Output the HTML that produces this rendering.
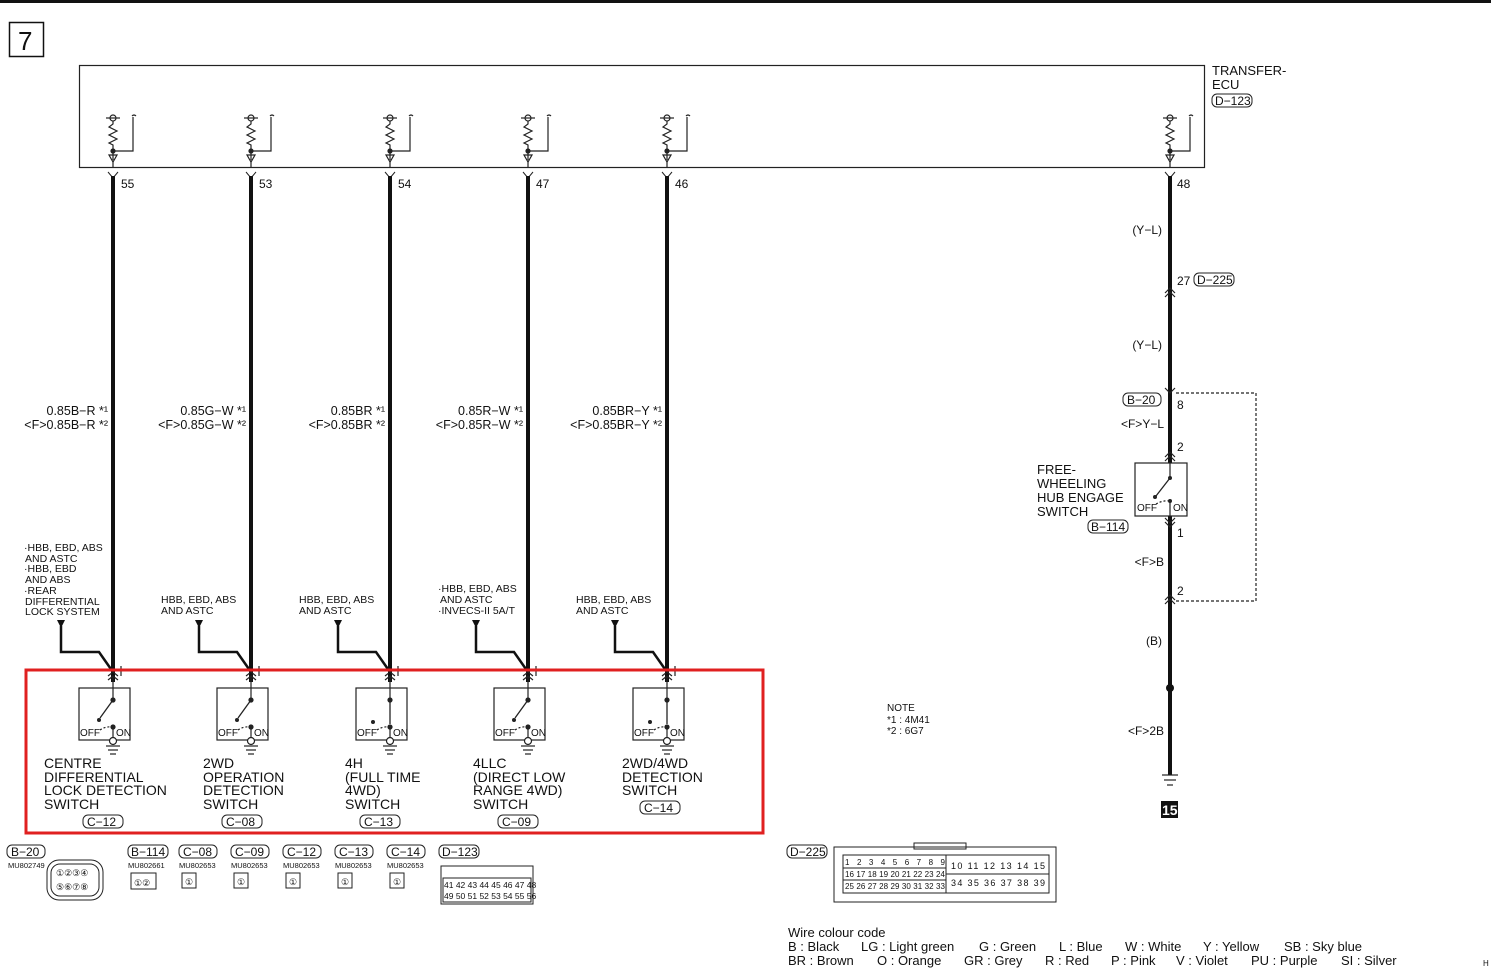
<!DOCTYPE html>
<html><head><meta charset="utf-8"><style>
html,body{margin:0;padding:0;background:#fff;width:1491px;height:968px;overflow:hidden}
svg text{font-family:"Liberation Sans",sans-serif;fill:#111}
.c{font-family:"Liberation Sans Narrow","Liberation Sans",sans-serif}
</style></head><body>
<svg width="1491" height="968" viewBox="0 0 1491 968" xmlns="http://www.w3.org/2000/svg">
<defs>
<g id="pu" fill="none" stroke="#222" stroke-width="1.2">
 <circle cx="0" cy="118" r="3"/><line x1="-7" y1="118" x2="7" y2="118"/>
 <polyline points="0,121 0,124 -4,127 4,131 -4,135 4,139 -4,143 0,145 0,160"/>
 <polyline points="0,151 20,151 20,117"/><path d="M19,116 q2,-2 4,0"/>
 <circle cx="0" cy="151" r="2" fill="#222"/>
 <polygon points="-4,155 4,155 0,162"/><line x1="0" y1="162" x2="0" y2="167"/>
</g>
<g id="sw" fill="none" stroke="#222" stroke-width="1.2">
 <polyline points="-5,676 0,672 5,676"/><polyline points="-5,680 0,676 5,680"/>
 <rect x="-34" y="688" width="51" height="52"/>
 <line x1="0" y1="676" x2="0" y2="700"/>
 <circle cx="0" cy="700" r="2" fill="#222"/>
 <circle cx="0" cy="727" r="2" fill="#222"/>
 <line x1="0" y1="727" x2="0" y2="737"/>
 <path d="M-13,730 q6,-4 13,-3" stroke-dasharray="2,2"/>
 <circle cx="0" cy="741" r="3.5" fill="#fff"/>
 <line x1="-7" y1="746" x2="7" y2="746"/><line x1="-5" y1="750" x2="5" y2="750"/><line x1="-3" y1="754" x2="3" y2="754"/>
 <line x1="8" y1="666" x2="8" y2="676"/>
</g>
</defs>
<rect x="0" y="0" width="1491" height="3" fill="#111"/>
<rect x="9.5" y="22.5" width="34" height="34" fill="none" stroke="#111" stroke-width="1.5"/>
<text x="18" y="50" font-size="26">7</text>
<rect x="79.5" y="65.5" width="1125" height="102" fill="none" stroke="#222" stroke-width="1.2"/>
<text x="1212" y="75" font-size="13">TRANSFER-</text>
<text x="1212" y="89" font-size="13">ECU</text>
<rect x="1212" y="94" width="40" height="13" rx="5" fill="none" stroke="#222"/>
<text x="1215" y="105" font-size="12" class="c">D−123</text>

<g font-size="12">
<g transform="translate(113,0)"><use href="#pu"/><polyline points="-5,172 0,178 5,172" fill="none" stroke="#222"/><line x1="0" y1="176" x2="0" y2="682" stroke="#111" stroke-width="4"/><text x="8" y="188">55</text>
<text x="-5" y="415" text-anchor="end" font-family="Liberation Mono" font-size="12.5">0.85B−R *¹</text><text x="-5" y="429" text-anchor="end" font-family="Liberation Mono" font-size="12.5">&lt;F&gt;0.85B−R *²</text>
<use href="#sw"/><polygon points="-56,620 -48,620 -52,628" fill="#111"/><polyline points="-52,626 -52,652 -14,652 0,672" fill="none" stroke="#111" stroke-width="2.5"/>
<line x1="0" y1="700" x2="-13" y2="718" stroke="#222" stroke-width="1.3"/><circle cx="-14" cy="720" r="2" fill="#222"/></g>

<g transform="translate(251,0)"><use href="#pu"/><polyline points="-5,172 0,178 5,172" fill="none" stroke="#222"/><line x1="0" y1="176" x2="0" y2="682" stroke="#111" stroke-width="4"/><text x="8" y="188">53</text>
<text x="-5" y="415" text-anchor="end" font-family="Liberation Mono" font-size="12.5">0.85G−W *¹</text><text x="-5" y="429" text-anchor="end" font-family="Liberation Mono" font-size="12.5">&lt;F&gt;0.85G−W *²</text>
<use href="#sw"/><polygon points="-56,620 -48,620 -52,628" fill="#111"/><polyline points="-52,626 -52,652 -14,652 0,672" fill="none" stroke="#111" stroke-width="2.5"/>
<line x1="0" y1="700" x2="-13" y2="718" stroke="#222" stroke-width="1.3"/><circle cx="-14" cy="720" r="2" fill="#222"/></g>

<g transform="translate(390,0)"><use href="#pu"/><polyline points="-5,172 0,178 5,172" fill="none" stroke="#222"/><line x1="0" y1="176" x2="0" y2="682" stroke="#111" stroke-width="4"/><text x="8" y="188">54</text>
<text x="-5" y="415" text-anchor="end" font-family="Liberation Mono" font-size="12.5">0.85BR *¹</text><text x="-5" y="429" text-anchor="end" font-family="Liberation Mono" font-size="12.5">&lt;F&gt;0.85BR *²</text>
<use href="#sw"/><polygon points="-56,620 -48,620 -52,628" fill="#111"/><polyline points="-52,626 -52,652 -14,652 0,672" fill="none" stroke="#111" stroke-width="2.5"/>
<line x1="0" y1="700" x2="0" y2="724" stroke="#222" stroke-width="1.3"/><circle cx="-17" cy="722" r="2" fill="#222"/></g>

<g transform="translate(528,0)"><use href="#pu"/><polyline points="-5,172 0,178 5,172" fill="none" stroke="#222"/><line x1="0" y1="176" x2="0" y2="682" stroke="#111" stroke-width="4"/><text x="8" y="188">47</text>
<text x="-5" y="415" text-anchor="end" font-family="Liberation Mono" font-size="12.5">0.85R−W *¹</text><text x="-5" y="429" text-anchor="end" font-family="Liberation Mono" font-size="12.5">&lt;F&gt;0.85R−W *²</text>
<use href="#sw"/><polygon points="-56,620 -48,620 -52,628" fill="#111"/><polyline points="-52,626 -52,652 -14,652 0,672" fill="none" stroke="#111" stroke-width="2.5"/>
<line x1="0" y1="700" x2="-13" y2="718" stroke="#222" stroke-width="1.3"/><circle cx="-14" cy="720" r="2" fill="#222"/></g>

<g transform="translate(667,0)"><use href="#pu"/><polyline points="-5,172 0,178 5,172" fill="none" stroke="#222"/><line x1="0" y1="176" x2="0" y2="682" stroke="#111" stroke-width="4"/><text x="8" y="188">46</text>
<text x="-5" y="415" text-anchor="end" font-family="Liberation Mono" font-size="12.5">0.85BR−Y *¹</text><text x="-5" y="429" text-anchor="end" font-family="Liberation Mono" font-size="12.5">&lt;F&gt;0.85BR−Y *²</text>
<use href="#sw"/><polygon points="-56,620 -48,620 -52,628" fill="#111"/><polyline points="-52,626 -52,652 -14,652 0,672" fill="none" stroke="#111" stroke-width="2.5"/>
<line x1="0" y1="700" x2="0" y2="724" stroke="#222" stroke-width="1.3"/><circle cx="-17" cy="722" r="2" fill="#222"/></g>
</g>

<g font-size="10" class="c">
<text x="80" y="736">OFF</text><text x="116" y="736">ON</text>
<text x="218" y="736">OFF</text><text x="254" y="736">ON</text>
<text x="357" y="736">OFF</text><text x="393" y="736">ON</text>
<text x="495" y="736">OFF</text><text x="531" y="736">ON</text>
<text x="634" y="736">OFF</text><text x="670" y="736">ON</text>
</g>

<g font-size="10.5">
<text x="24" y="551">·HBB, EBD, ABS</text><text x="25" y="562">AND ASTC</text>
<text x="24" y="572">·HBB, EBD</text><text x="25" y="583">AND ABS</text>
<text x="24" y="594">·REAR</text><text x="25" y="605">DIFFERENTIAL</text><text x="25" y="615">LOCK SYSTEM</text>
<text x="161" y="603">HBB, EBD, ABS</text><text x="161" y="614">AND ASTC</text>
<text x="299" y="603">HBB, EBD, ABS</text><text x="299" y="614">AND ASTC</text>
<text x="438" y="592">·HBB, EBD, ABS</text><text x="440" y="603">AND ASTC</text><text x="438" y="614">·INVECS-II 5A/T</text>
<text x="576" y="603">HBB, EBD, ABS</text><text x="576" y="614">AND ASTC</text>
</g>

<rect x="26" y="670" width="737" height="163" fill="none" stroke="#e02020" stroke-width="3"/>

<g font-size="14">
<text x="44" y="768">CENTRE</text><text x="44" y="782">DIFFERENTIAL</text><text x="44" y="795">LOCK DETECTION</text><text x="44" y="809">SWITCH</text>
<text x="203" y="768">2WD</text><text x="203" y="782">OPERATION</text><text x="203" y="795">DETECTION</text><text x="203" y="809">SWITCH</text>
<text x="345" y="768">4H</text><text x="345" y="782">(FULL TIME</text><text x="345" y="795">4WD)</text><text x="345" y="809">SWITCH</text>
<text x="473" y="768">4LLC</text><text x="473" y="782">(DIRECT LOW</text><text x="473" y="795">RANGE 4WD)</text><text x="473" y="809">SWITCH</text>
<text x="622" y="768">2WD/4WD</text><text x="622" y="782">DETECTION</text><text x="622" y="795">SWITCH</text>
</g>
<g font-size="12" class="c" fill="none">
<rect x="83" y="815" width="40" height="13" rx="5" stroke="#222"/><text x="87" y="826">C−12</text>
<rect x="222" y="815" width="40" height="13" rx="5" stroke="#222"/><text x="226" y="826">C−08</text>
<rect x="360" y="815" width="40" height="13" rx="5" stroke="#222"/><text x="364" y="826">C−13</text>
<rect x="498" y="815" width="40" height="13" rx="5" stroke="#222"/><text x="502" y="826">C−09</text>
<rect x="640" y="801" width="40" height="13" rx="5" stroke="#222"/><text x="644" y="812">C−14</text>
</g>

<g transform="translate(1170,0)"><use href="#pu"/></g>
<polyline points="1165,172 1170,178 1175,172" fill="none" stroke="#222"/>
<line x1="1170" y1="176" x2="1170" y2="775" stroke="#111" stroke-width="4"/>
<g font-size="12" class="c">
<text x="1177" y="188">48</text>
<text x="1162" y="234" text-anchor="end">(Y−L)</text>
<text x="1177" y="285">27</text>
<rect x="1194" y="273" width="40" height="13" rx="5" fill="none" stroke="#222"/><text x="1197" y="284">D−225</text>
<text x="1162" y="349" text-anchor="end">(Y−L)</text>
<rect x="1123" y="393" width="38" height="13" rx="5" fill="none" stroke="#222"/><text x="1127" y="404">B−20</text>
<text x="1177" y="409">8</text>
<text x="1164" y="428" text-anchor="end">&lt;F&gt;Y−L</text>
<text x="1177" y="451">2</text>
<rect x="1088" y="520" width="40" height="13" rx="5" fill="none" stroke="#222"/><text x="1091" y="531">B−114</text>
<text x="1177" y="537">1</text>
<text x="1164" y="566" text-anchor="end">&lt;F&gt;B</text>
<text x="1177" y="595">2</text>
<text x="1162" y="645" text-anchor="end">(B)</text>
<text x="1164" y="735" text-anchor="end">&lt;F&gt;2B</text>
</g>
<g fill="none" stroke="#222" stroke-width="1.2">
<polyline points="1165,293 1170,288 1175,293"/><polyline points="1165,297 1170,292 1175,297"/>
<polyline points="1165,388 1170,393 1175,388"/>
<polyline points="1165,457 1170,452 1175,457"/><polyline points="1165,461 1170,456 1175,461"/>
<polyline points="1165,518 1170,523 1175,518"/><polyline points="1165,522 1170,527 1175,522"/>
<polyline points="1165,600 1170,595 1175,600"/><polyline points="1165,604 1170,599 1175,604"/>
<rect x="1135" y="463" width="52" height="53" fill="#fff"/>
<line x1="1170" y1="463" x2="1170" y2="478"/>
<polyline points="1176,393 1256,393 1256,601 1176,601" stroke-dasharray="3,2"/>
<path d="M1156,504 q7,-4 14,-3" stroke-dasharray="2,2"/>
<line x1="1170" y1="501" x2="1170" y2="516"/>
<line x1="1162" y1="775" x2="1178" y2="775"/><line x1="1164" y1="780" x2="1176" y2="780"/><line x1="1167" y1="785" x2="1173" y2="785"/>
</g>
<line x1="1170" y1="478" x2="1156" y2="496" stroke="#222" stroke-width="1.3"/>
<circle cx="1170" cy="478" r="2" fill="#222"/><circle cx="1155" cy="497" r="2" fill="#222"/><circle cx="1170" cy="501" r="2" fill="#222"/>
<circle cx="1170" cy="688" r="4" fill="#111"/>
<text x="1137" y="511" font-size="10" class="c">OFF</text><text x="1173" y="511" font-size="10" class="c">ON</text>
<g font-size="13"><text x="1037" y="474">FREE-</text><text x="1037" y="488">WHEELING</text><text x="1037" y="502">HUB ENGAGE</text><text x="1037" y="516">SWITCH</text></g>
<rect x="1161" y="801" width="17" height="17" fill="#111"/>
<text x="1162" y="815" font-size="14" font-weight="bold" style="fill:#fff">15</text>

<g font-size="10"><text x="887" y="711">NOTE</text><text x="887" y="723">*1 : 4M41</text><text x="887" y="734">*2 : 6G7</text></g>

<g font-size="12" class="c" fill="none" stroke="#222">
<rect x="7" y="845" width="38" height="13" rx="5"/><rect x="128" y="845" width="40" height="13" rx="5"/>
<rect x="179" y="845" width="38" height="13" rx="5"/><rect x="231" y="845" width="38" height="13" rx="5"/>
<rect x="283" y="845" width="38" height="13" rx="5"/><rect x="335" y="845" width="38" height="13" rx="5"/>
<rect x="387" y="845" width="38" height="13" rx="5"/><rect x="439" y="845" width="40" height="13" rx="5"/>
<rect x="787" y="845" width="40" height="13" rx="5"/>
</g>
<g font-size="12" class="c">
<text x="11" y="856">B−20</text><text x="131" y="856">B−114</text><text x="183" y="856">C−08</text><text x="235" y="856">C−09</text>
<text x="287" y="856">C−12</text><text x="339" y="856">C−13</text><text x="391" y="856">C−14</text><text x="442" y="856">D−123</text><text x="790" y="856">D−225</text>
</g>
<g font-size="7.5" class="c">
<text x="8" y="868">MU802749</text><text x="128" y="868">MU802661</text><text x="179" y="868">MU802653</text><text x="231" y="868">MU802653</text>
<text x="283" y="868">MU802653</text><text x="335" y="868">MU802653</text><text x="387" y="868">MU802653</text>
</g>
<g fill="none" stroke="#222" stroke-width="1">
<rect x="47" y="860" width="56" height="40" rx="12"/><rect x="51" y="864" width="48" height="32" rx="9"/>
<rect x="131" y="873" width="25" height="16"/><rect x="182" y="873" width="14" height="15"/><rect x="234" y="873" width="14" height="15"/>
<rect x="286" y="873" width="14" height="15"/><rect x="338" y="873" width="14" height="15"/><rect x="390" y="873" width="14" height="15"/>
<rect x="441" y="866" width="92" height="38"/><rect x="443" y="878" width="88" height="24"/>
<rect x="834" y="847" width="222" height="55"/><rect x="843" y="855" width="206" height="38"/>
<rect x="914" y="843" width="52" height="6"/>
<line x1="946" y1="855" x2="946" y2="893"/><line x1="843" y1="868" x2="946" y2="868"/><line x1="843" y1="880" x2="946" y2="880"/><line x1="946" y1="874" x2="1049" y2="874"/>
</g>
<g font-size="9" class="c">
<text x="56" y="876">①②③④</text><text x="56" y="890">⑤⑥⑦⑧</text>
<text x="134" y="886">①②</text><text x="185" y="885">①</text><text x="237" y="885">①</text><text x="289" y="885">①</text><text x="341" y="885">①</text><text x="393" y="885">①</text>
<text x="444" y="888" font-size="8.5">41 42 43 44 45 46 47 48</text>
<text x="444" y="899" font-size="8.5">49 50 51 52 53 54 55 56</text>
<text x="845" y="865" font-size="8" textLength="100">1 2 3 4 5 6 7 8 9</text>
<text x="845" y="877" font-size="8" textLength="100">16 17 18 19 20 21 22 23 24</text>
<text x="845" y="889" font-size="8" textLength="100">25 26 27 28 29 30 31 32 33</text>
<text x="951" y="869" font-size="9" textLength="94">10  11  12  13  14  15</text>
<text x="951" y="886" font-size="9" textLength="94">34  35  36  37  38  39</text>
</g>

<g font-size="13">
<text x="788" y="937">Wire colour code</text>
<text x="788" y="951">B : Black</text><text x="861" y="951">LG : Light green</text><text x="979" y="951">G : Green</text><text x="1059" y="951">L : Blue</text><text x="1125" y="951">W : White</text><text x="1203" y="951">Y : Yellow</text><text x="1284" y="951">SB : Sky blue</text>
<text x="788" y="965">BR : Brown</text><text x="877" y="965">O : Orange</text><text x="964" y="965">GR : Grey</text><text x="1045" y="965">R : Red</text><text x="1111" y="965">P : Pink</text><text x="1176" y="965">V : Violet</text><text x="1251" y="965">PU : Purple</text><text x="1341" y="965">SI : Silver</text>
</g>
<text x="1483" y="966" font-size="8">H</text>
</svg>
</body></html>
